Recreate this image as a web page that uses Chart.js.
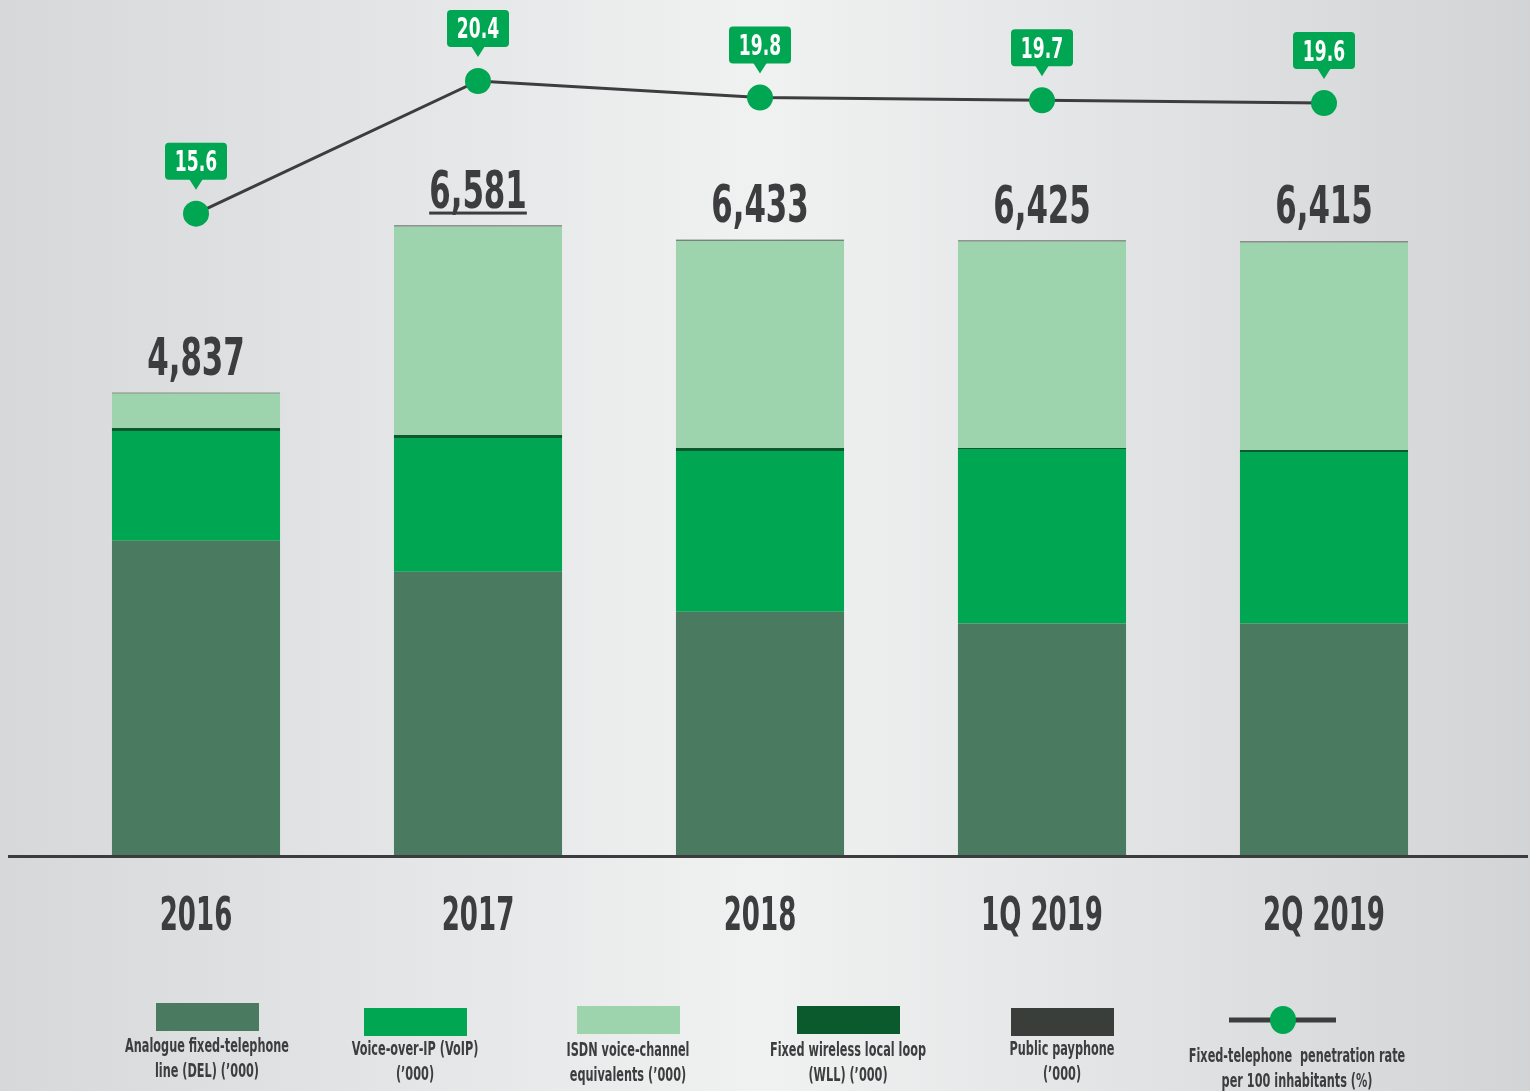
<!DOCTYPE html>
<html>
<head>
<meta charset="utf-8">
<script src="https://cdn.jsdelivr.net/npm/chart.js@4.4.1/dist/chart.umd.min.js"></script>
<style>
  html, body { margin: 0; padding: 0; background: #e6e7e8; }
  #wrap { width: 1530px; height: 1091px; position: relative; }
  canvas { display: block; }
</style>
</head>
<body>
<div id="wrap"><canvas id="c" width="1530" height="1091"></canvas></div>
<script>
const categories = ['2016', '2017', '2018', '1Q 2019', '2Q 2019'];
const analogue = [3291, 2968, 2551, 2426, 2426];
const voip = [1146, 1396, 1676, 1822, 1791];
const wll = [31, 31, 31, 10, 20];
const isdn = [359, 2176, 2165, 2157, 2168];
const payphone = [10, 10, 10, 10, 10];
const totals = [4837, 6581, 6433, 6425, 6415];
const penetration = [15.6, 20.4, 19.8, 19.7, 19.6];
const legendLabels = [
  ['Analogue fixed-telephone', 'line (DEL) (\u2019000)'],
  ['Voice-over-IP (VoIP)', '(\u2019000)'],
  ['ISDN voice-channel', 'equivalents (\u2019000)'],
  ['Fixed wireless local loop', '(WLL) (\u2019000)'],
  ['Public payphone', '(\u2019000)'],
  ['Fixed-telephone  penetration rate', 'per 100 inhabitants (%)']
];

const FONT = '"Liberation Sans Narrow", "DejaVu Sans Condensed", "Liberation Sans", sans-serif';
const C = {
  analogue: '#4a7a5f', voip: '#00a651', isdn: '#9dd4ae', wll: '#0a5a2e',
  payphone: '#3a3e3b', text: '#3d3d3f', line: '#3d3d3f', point: '#00a651'
};

function sText(ctx, text, x, y, font, color, sx, align, baseline) {
  ctx.save();
  ctx.font = font;
  ctx.fillStyle = color;
  ctx.textAlign = align || 'center';
  ctx.textBaseline = baseline || 'alphabetic';
  ctx.translate(x, y);
  ctx.scale(sx, 1);
  ctx.fillText(text, 0, 0);
  ctx.restore();
}

const bgPlugin = {
  id: 'bg',
  beforeDraw(chart) {
    const ctx = chart.ctx;
    const g = ctx.createLinearGradient(0, 0, chart.width, 0);
    g.addColorStop(0, '#d7d8da');
    g.addColorStop(0.5, '#f0f1f1');
    g.addColorStop(1, '#d3d4d6');
    ctx.save();
    ctx.fillStyle = g;
    ctx.fillRect(0, 0, chart.width, chart.height);
    ctx.restore();
  }
};

const decoPlugin = {
  id: 'deco',
  afterDatasetsDraw(chart) {
    const ctx = chart.ctx;
    const area = chart.chartArea;
    ctx.save();
    ctx.strokeStyle = '#3c3c3e';
    ctx.lineWidth = 3;
    ctx.beginPath();
    ctx.moveTo(8, area.bottom + 0.5);
    ctx.lineTo(1528, area.bottom + 0.5);
    ctx.stroke();
    ctx.restore();

    const xs = chart.scales.x;
    categories.forEach((c, i) => {
      sText(ctx, c, xs.getPixelForValue(i), 930, 'bold 46px ' + FONT, C.text, 0.63);
    });

    const topMeta = chart.getDatasetMeta(4);
    totals.forEach((t, i) => {
      const el = topMeta.data[i];
      const y = el.y - 18;
      const txt = t.toLocaleString('en-US');
      sText(ctx, txt, el.x, y, 'bold 52px ' + FONT, C.text, 0.66);
      if (i === 1) {
        ctx.save();
        ctx.font = 'bold 52px ' + FONT;
        const w = ctx.measureText(txt).width * 0.66;
        ctx.fillStyle = C.text;
        ctx.fillRect(el.x - w / 2, y + 4, w, 3);
        ctx.restore();
      }
    });

    const lm = chart.getDatasetMeta(5);
    penetration.forEach((v, i) => {
      const p = lm.data[i];
      const bw = 62, bh = 37;
      const bx = p.x - bw / 2, by = p.y - 34 - bh;
      ctx.save();
      ctx.fillStyle = C.point;
      ctx.beginPath();
      ctx.roundRect(bx, by, bw, bh, 4);
      ctx.fill();
      ctx.beginPath();
      ctx.moveTo(p.x - 7, by + bh - 1);
      ctx.lineTo(p.x + 7, by + bh - 1);
      ctx.lineTo(p.x, by + bh + 10);
      ctx.closePath();
      ctx.fill();
      ctx.restore();
      sText(ctx, v.toFixed(1), p.x, by + bh / 2 + 10, 'bold 28px ' + FONT, '#ffffff', 0.68);
    });
  },
  afterDraw(chart) {
    const ctx = chart.ctx;
    const sw = [
      { cx: 207, y: 1003, color: C.analogue, ty: 1047 },
      { cx: 415, y: 1008, color: C.voip, ty: 1050 },
      { cx: 628, y: 1006, color: C.isdn, ty: 1051 },
      { cx: 848, y: 1006, color: C.wll, ty: 1051 },
      { cx: 1062, y: 1008, color: C.payphone, ty: 1050 }
    ];
    sw.forEach((s, i) => {
      ctx.fillStyle = s.color;
      ctx.fillRect(s.cx - 51, s.y, 103, 28);
      legendLabels[i].forEach((ln, j) => {
        sText(ctx, ln, s.cx, s.ty + j * 25, 'bold 19px ' + FONT, C.text, 0.66, 'center', 'middle');
      });
    });
    ctx.save();
    ctx.strokeStyle = C.line;
    ctx.lineWidth = 5;
    ctx.beginPath();
    ctx.moveTo(1229, 1020);
    ctx.lineTo(1336, 1020);
    ctx.stroke();
    ctx.fillStyle = C.point;
    ctx.beginPath();
    ctx.ellipse(1283, 1020, 13, 14, 0, 0, Math.PI * 2);
    ctx.fill();
    ctx.restore();
    legendLabels[5].forEach((ln, j) => {
      sText(ctx, ln, 1297, 1057 + j * 25, 'bold 19px ' + FONT, C.text, 0.66, 'center', 'middle');
    });
  }
};

const barCommon = { type: 'bar', stack: 's', yAxisID: 'y', borderWidth: 0, barPercentage: 0.596, categoryPercentage: 1, order: 2 };

new Chart(document.getElementById('c'), {
  data: {
    labels: categories,
    datasets: [
      Object.assign({ label: 'Analogue', data: analogue, backgroundColor: C.analogue }, barCommon),
      Object.assign({ label: 'VoIP', data: voip, backgroundColor: C.voip }, barCommon),
      Object.assign({ label: 'WLL', data: wll, backgroundColor: C.wll }, barCommon),
      Object.assign({ label: 'ISDN', data: isdn, backgroundColor: C.isdn }, barCommon),
      Object.assign({ label: 'Payphone', data: payphone, backgroundColor: C.payphone }, barCommon),
      {
        type: 'line', label: 'Penetration', data: penetration, yAxisID: 'y2',
        borderColor: C.line, borderWidth: 3, tension: 0,
        pointRadius: 13, pointHoverRadius: 13, pointBackgroundColor: C.point, pointBorderWidth: 0,
        clip: false, order: 1
      }
    ]
  },
  options: {
    responsive: false,
    animation: false,
    events: [],
    layout: { padding: { top: 11, left: 55, right: 65, bottom: 235 } },
    plugins: { legend: { display: false }, tooltip: { enabled: false } },
    scales: {
      x: { display: false, stacked: true, offset: true },
      y: { display: false, stacked: true, min: 0, max: 8800 },
      y2: { display: false, min: -7.64, max: 22.86 }
    }
  },
  plugins: [bgPlugin, decoPlugin]
});
</script>
</body>
</html>
